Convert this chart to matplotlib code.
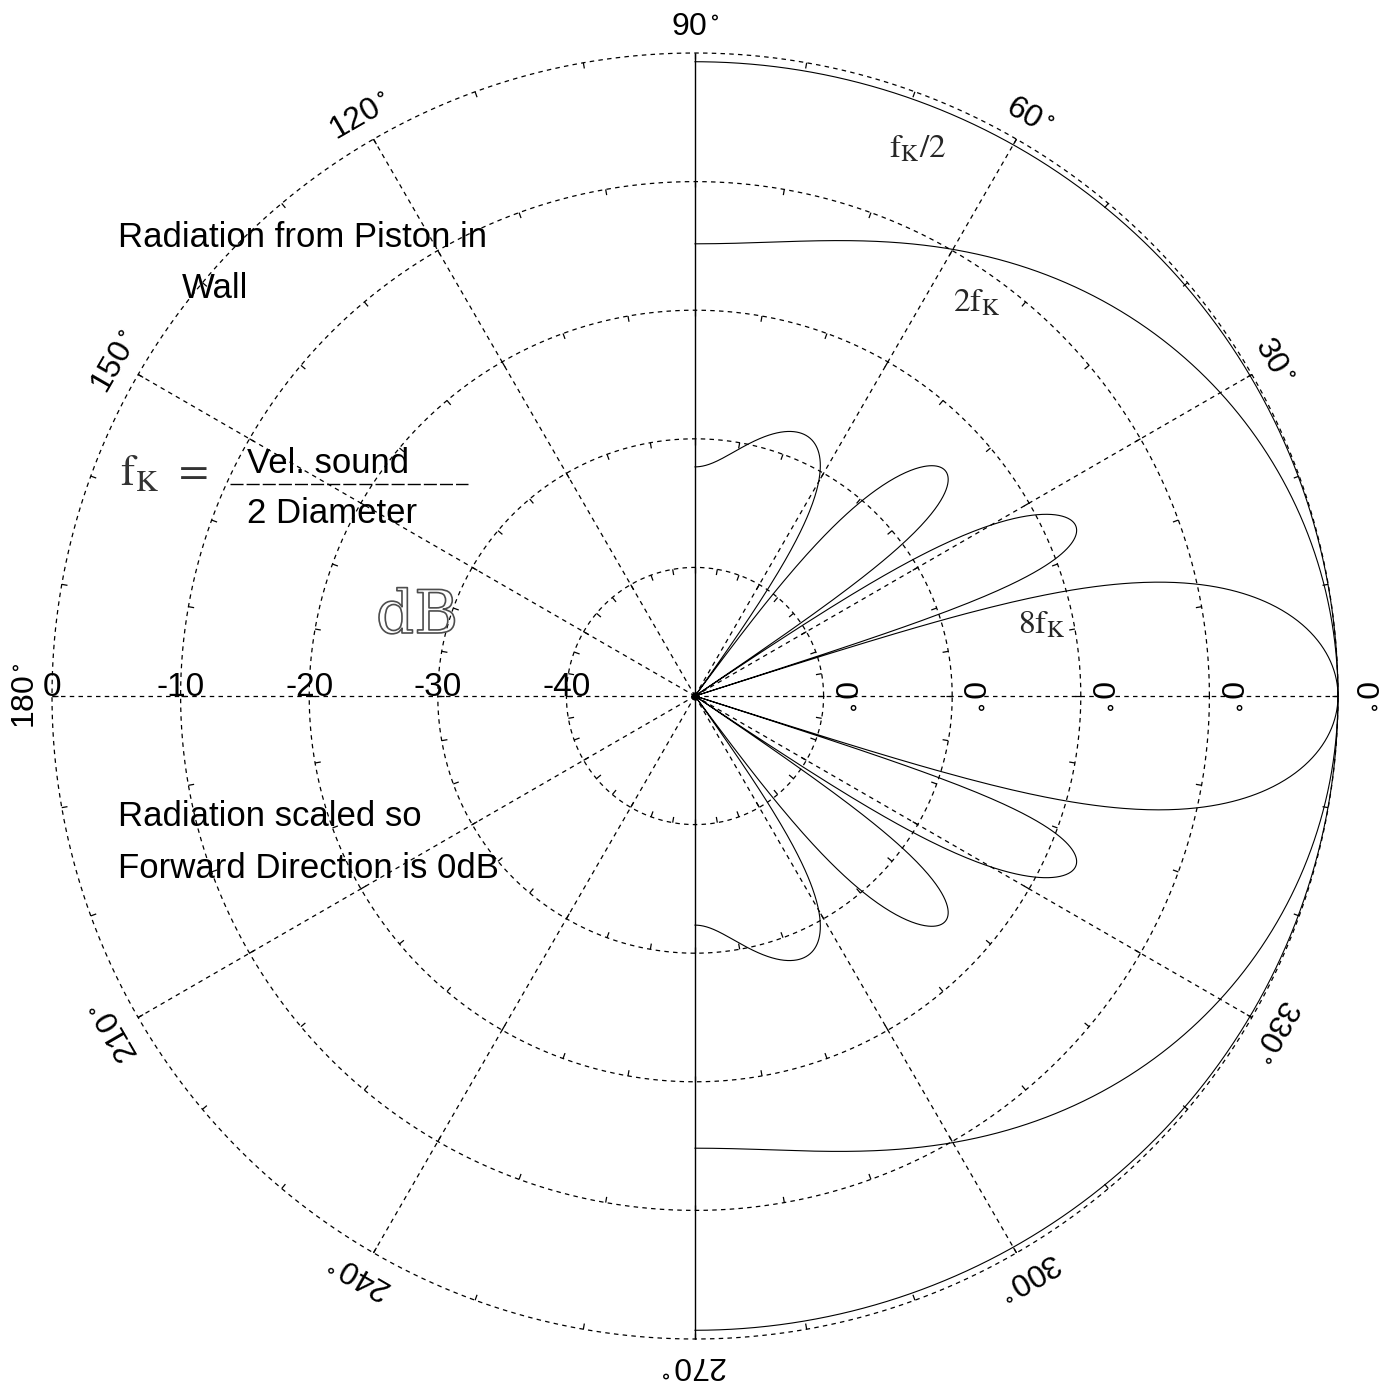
import numpy as np
import matplotlib.pyplot as plt
import matplotlib.patheffects as pe
from matplotlib.lines import Line2D

plt.rcParams['mathtext.fontset'] = 'stix'

# frequencies in units of f_K = c / (2 * diameter)
freq_ratio = [0.5, 2.0, 8.0]
curve_labels = [r'$\mathrm{f_K/2}$', r'$\mathrm{2f_K}$', r'$\mathrm{8f_K}$']
label_xy = [(889, 158), (953, 312), (1018, 633)]   # pixel anchor, baseline-left

db_rings = [-40, -30, -20, -10, 0]
ring_text = ['-40', '-30', '-20', '-10', '0']
angle_ticks = [0, 30, 60, 90, 120, 150, 180, 210, 240, 270, 300, 330]
db_floor = -50

W, H = 1388, 1385
cx, cy, R = 695, 696, 643      # centre and 0 dB radius in pixels


def bessel_j1(x):
    tau = np.linspace(0, np.pi, 2001)
    x = np.atleast_1d(x)[:, None]
    return np.trapezoid(np.cos(tau - x * np.sin(tau)), tau, axis=1) / np.pi


def piston_db(ka, theta):
    u = ka * np.sin(theta)
    d = np.ones_like(u)
    nz = np.abs(u) > 1e-9
    d[nz] = 2 * bessel_j1(u[nz]) / u[nz]
    return np.maximum(20 * np.log10(np.abs(d) + 1e-12), db_floor)


fig = plt.figure(figsize=(W / 100, H / 100), dpi=100)
ax = fig.add_axes([(cx - R) / W, (H - cy - R) / H, 2 * R / W, 2 * R / H],
                  projection='polar')
ax.set_ylim(db_floor, 0)
ax.set_axis_off()

dots = (0, (3.6, 3.4))

# range rings with little inward ticks every 10 degrees
ring_theta = np.linspace(0, 2 * np.pi, 1441)
tick_theta = np.radians(np.arange(0, 360, 10))
for r in db_rings:
    ax.plot(ring_theta, np.full_like(ring_theta, r), color='k', lw=0.9,
            linestyle=dots, clip_on=False)
    ax.vlines(tick_theta, r - 0.45, r, colors='k', lw=0.9, clip_on=False)

# spokes; the 90/270 one is the solid wall line
spokes = [a for a in angle_ticks if a not in (90, 270)]
ax.vlines(np.radians(spokes), db_floor, 0, colors='k', lw=0.9,
          linestyles=[dots], clip_on=False)
ax.vlines(np.radians([90, 270]), db_floor, 0, colors='k', lw=1.0, clip_on=False)
ax.plot([0], [db_floor], 'o', color='k', ms=5, clip_on=False)

theta = np.radians(np.arange(-90, 90.05, 0.1))
for f in freq_ratio:
    ka = np.pi / 2 * f
    ax.plot(theta, piston_db(ka, theta), color='k', lw=0.8, clip_on=False)

# angle labels around the outside
for a in angle_ticks:
    ax.text(np.radians(a), 2.0, f'{a}' + r'$\,^{\circ}$', rotation=a - 90,
            rotation_mode='anchor', ha='center', va='center', fontsize=23,
            family='Liberation Sans')

# ring values along 180 deg, and the odd "0°" marks along 0 deg
for r, t in zip(db_rings, ring_text):
    ax.text(np.pi, r, t, ha='center', va='baseline', fontsize=24,
            family='Liberation Sans')
for r in db_rings[:-1]:
    ax.text(0, r + 1.5, '0' + r'$\,^{\circ}$', rotation=-90,
            rotation_mode='anchor', ha='center', va='center', fontsize=23,
            family='Liberation Sans')

for lbl, (px, py) in zip(curve_labels, label_xy):
    fig.text(px / W, 1 - py / H, lbl, fontsize=24, color='0.15', va='baseline')

sans = dict(family='Liberation Sans', fontsize=25, va='baseline')
fig.text(118 / W, 1 - 247 / H, 'Radiation from Piston in', **sans)
fig.text(182 / W, 1 - 298 / H, 'Wall', **sans)
fig.text(247 / W, 1 - 473 / H, 'Vel. sound', **sans)
fig.text(247 / W, 1 - 523 / H, '2 Diameter', **sans)
fig.text(118 / W, 1 - 826 / H, 'Radiation scaled so', **sans)
fig.text(118 / W, 1 - 878 / H, 'Forward Direction is 0dB', **sans)

fig.text(120 / W, 1 - 485 / H, r'$\mathrm{f_K}$', fontsize=31, color='0.2',
         va='baseline')
fig.text(190 / W, 1 - 470 / H, r'$=$', fontsize=31, color='0.2',
         ha='center', va='center')
fig.add_artist(Line2D([230 / W, 468 / W], [1 - 484 / H] * 2, color='k', lw=1.0,
                      dashes=(9.4, 2.2)))

fig.text(376 / W, 1 - 633 / H, 'dB', fontsize=43, family='DejaVu Serif',
         color=(1, 1, 1, 0), va='baseline',
         path_effects=[pe.Stroke(linewidth=1.2, foreground='0.3')])

fig.savefig('out.png', dpi=100, facecolor='white')
